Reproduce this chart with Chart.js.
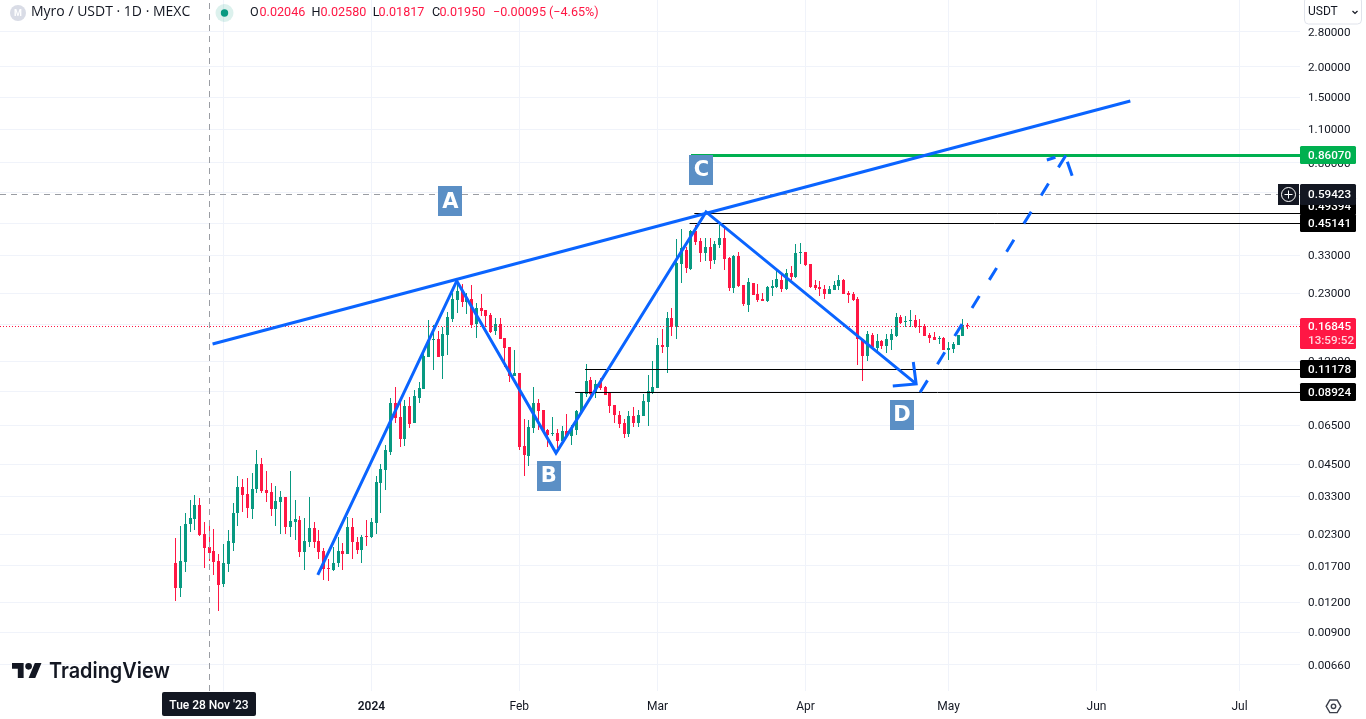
<!DOCTYPE html>
<html>
<head>
<meta charset="utf-8">
<title>Myro / USDT 1D</title>
<script src="https://cdn.jsdelivr.net/npm/chart.js@4/dist/chart.umd.min.js"></script>
<style>
html,body{margin:0;padding:0;background:#fff;overflow:hidden}
canvas{display:block}
</style>
</head>
<body>
<canvas id="c" width="1366" height="719"></canvas>
<script>
// Candles: one per day, first candle 41 days before 1 Jan 2024 (day 0)
const firstCandleDay = -41;
const opens = [.0175,.0138,.0177,.0254,.0267,.0304,.0231,.0204,.0196,.0178,.0143,.0173,.0212,.0282,.0361,.0338,.0293,.0354,.0450,.0351,.0344,.0293,.0313,.0328,.0247,.0259,.0264,.0194,.0214,.0245,.0216,.0196,.0167,.0164,.0175,.0196,.0191,.0247,.0214,.0198,.0227,.0223,.0257,.0376,.0425,.0505,
.0807,.0705,.0572,.0784,.0666,.0846,.0921,.1252,.1472,.1487,.1264,.1545,.1800,.2158,.2352,.2117,.2179,.1716,.1999,.1961,.1870,.1605,.1716,.1501,.1377,.1044,.1074,.0535,.0486,.0635,.0807,.0754,.0623,.0600,.0606,.0561,.0617,.0588,.0623,.0740,.0879,.1004,.0896,.0985,.0939,.0887,
.0791,.0719,.0666,.0600,.0712,.0666,.0712,.0814,.0887,.0930,.1404,.1377,.1817,.1667,.3044,.3481,.2902,.4173,.3794,.3383,.3582,.3163,.3651,.3903,.3225,.2421,.3287,.2491,.2058,.2539,.2286,.2179,.2138,.2421,.2444,.2613,.2398,.2794,.2689,.3383,.3415,.3044,.2491,.2444,.2398,.2286,.2375,.2467,.2613,.2308,.2286,.2179,.1487,.1264,.1545,.1364,.1458,.1390,.1472,.1530,.1834,.1749,.1766,.1783,.1683,.1683,.1545,.1515,.1495,.1501,.1338,.1351,.1404,.1530,.1700];
const highs = [.0221,.0249,.0282,.0319,.0335,.0325,.0259,.0259,.0242,.0191,.0210,.0240,.0310,.0401,.0390,.0394,.0413,.0514,.0477,.0421,.0376,.0365,.0348,.0328,.0421,.0319,.0274,.0269,.0328,.0259,.0240,.0202,.0182,.0204,.0225,.0212,.0272,.0269,.0225,.0229,.0264,.0269,.0401,.0450,.0540,.0846,
.0939,.0814,.0830,.0854,.0913,.0985,.1338,.1783,.1700,.1605,.1667,.1924,.2308,.2539,.2515,.2308,.2491,.2097,.2286,.1961,.1906,.1817,.1817,.1501,.1377,.1338,.1074,.0692,.0685,.0939,.0838,.0754,.0629,.0705,.0629,.0647,.0726,.0654,.0754,.0896,.1171,.1034,.1004,.1024,.0948,.0887,
.0791,.0747,.0692,.0747,.0776,.0754,.0879,.1054,.1205,.1501,.1636,.1924,.1999,.3866,.4255,.3582,.4213,.4420,.3903,.3903,.3903,.3794,.4420,.4295,.3256,.3319,.3415,.2491,.2663,.2539,.2515,.2308,.2467,.2613,.2930,.2741,.2902,.2987,.3686,.3722,.3415,.3044,.2613,.2588,.2491,.2467,.2588,.2741,.2638,.2352,.2330,.2221,.1487,.1605,.1575,.1560,.1472,.1560,.1636,.1906,.1870,.1852,.1961,.1870,.1800,.1716,.1575,.1590,.1530,.1515,.1445,.1445,.1545,.1800,.1732];
const lows = [.0121,.0126,.0160,.0236,.0240,.0227,.0167,.0178,.0156,.0110,.0139,.0160,.0196,.0249,.0285,.0269,.0267,.0341,.0341,.0313,.0274,.0249,.0231,.0231,.0225,.0218,.0185,.0164,.0204,.0202,.0182,.0149,.0147,.0162,.0168,.0164,.0191,.0182,.0191,.0175,.0206,.0221,.0231,.0282,.0351,.0491,
.0666,.0530,.0535,.0635,.0666,.0807,.0921,.1252,.1105,.1252,.1014,.1276,.1749,.1906,.2018,.1888,.1652,.1501,.1852,.1667,.1575,.1545,.1487,.1138,.0985,.1044,.0514,.0401,.0442,.0606,.0623,.0606,.0530,.0588,.0525,.0550,.0583,.0540,.0594,.0733,.0854,.0854,.0846,.0913,.0870,.0733,
.0666,.0635,.0577,.0583,.0641,.0641,.0712,.0647,.0879,.0930,.1300,.1074,.1530,.1487,.2539,.2794,.2875,.3651,.3103,.3133,.2902,.3044,.3548,.2875,.2352,.2308,.2444,.2038,.1924,.2264,.2117,.2138,.2117,.2243,.2421,.2330,.2375,.2613,.2663,.3044,.2987,.2421,.2375,.2243,.2179,.2286,.2375,.2375,.2286,.2097,.2138,.1160,.0995,.1205,.1364,.1313,.1351,.1300,.1338,.1515,.1716,.1667,.1667,.1652,.1575,.1530,.1431,.1472,.1417,.1338,.1216,.1300,.1404,.1530,.1636];
const closes = [.0138,.0178,.0254,.0269,.0304,.0229,.0202,.0192,.0177,.0142,.0175,.0216,.0282,.0361,.0335,.0296,.0354,.0450,.0348,.0341,.0293,.0316,.0328,.0247,.0262,.0267,.0194,.0216,.0245,.0214,.0194,.0165,.0165,.0175,.0196,.0191,.0247,.0214,.0198,.0225,.0225,.0259,.0379,.0429,.0514,.0807,
.0699,.0572,.0784,.0660,.0862,.0930,.1264,.1472,.1487,.1252,.1560,.1834,.2179,.2352,.2117,.2200,.1700,.1999,.1943,.1852,.1590,.1716,.1487,.1364,.1044,.1074,.0530,.0491,.0641,.0807,.0747,.0611,.0594,.0606,.0561,.0617,.0588,.0635,.0747,.0896,.0995,.0879,.0967,.0930,.0870,.0784,
.0719,.0660,.0600,.0712,.0666,.0719,.0822,.0904,.0939,.1404,.1377,.1817,.1667,.3074,.3548,.2930,.4173,.3758,.3383,.3582,.3133,.3686,.3903,.3194,.2421,.3287,.2467,.2077,.2564,.2264,.2158,.2138,.2444,.2467,.2638,.2398,.2794,.2689,.3383,.3415,.3015,.2444,.2421,.2398,.2286,.2398,.2491,.2613,.2286,.2264,.2158,.1487,.1264,.1560,.1377,.1458,.1390,.1487,.1560,.1834,.1732,.1766,.1783,.1667,.1667,.1530,.1501,.1472,.1501,.1338,.1364,.1417,.1545,.1700,.16845];

// Drawing tool paths: day offsets and prices
const zigzagDays = [-11.24, 17.9, 38.7, 70.15, 114.2];
const zigzagPrices = [.0156, .2588, .0500, .5005, .0967];
const arrowDownDays = [109.3, 114.2, 113.6];
const arrowDownPrices = [.0948, .0967, .1193];
const trendDays = [-33.3, 159.1];
const trendPrices = [.1417, 1.445];
const forecastDays = [115.04, 145.6];
const forecastPrices = [.0893, .8607];
const forecastBarbLeftDays = [141.6, 143.4];
const forecastBarbLeftPrices = [.8224, .8439];
const forecastBarbRightDays = [145.9, 146.9];
const forecastBarbRightPrices = [.8092, .7078];

const levelPrices = [.8607, .49394, .45141, .11178, .08924];
const levelStartDays = [67, 67.7, 66.7, 44.8, 42.7];
const lastPrice = .16845;
const crossPrice = .59423;
const crossDay = -34;

// Axis ticks
const priceTicks = [2.8, 2, 1.5, 1.1, .8, .6, .45, .33, .23, .17, .12, .09, .065, .045, .033, .023, .017, .012, .009, .0066];
const monthTickDays = [-31, 0, 31, 60, 91, 121, 152, 182];
const monthTickLabels = ['Dec', '2024', 'Feb', 'Mar', 'Apr', 'May', 'Jun', 'Jul'];

// Wave letters
const waveLetters = ['A', 'B', 'C', 'D'];
const waveLetterDays = [16.55, 37.2, 69.2, 111.25];
const waveLetterPrices = [.5532, .0403, .7475, .0720];

const UP = '#089981', DOWN = '#ff1744', BLUE = '#0a64ff', GREEN = '#00b050', INK = '#131722', GRID = '#f0f3fa', CROSS = '#9a9da3';
const FONT = 'Roboto, "Noto Sans", sans-serif';
const xMin = -77.86, xMax = 194.67, yMin = 0.005142, yMax = 3.793;

const pts = (xs, ys) => xs.map((x, i) => ({x, y: ys[i]}));
const candleDay = i => firstCandleDay + i;
const candleColor = opens.map((o, i) => closes[i] >= o ? UP : DOWN);

const lineDs = (data, color, width, extra) => Object.assign({
  type: 'line', data, borderColor: color, borderWidth: width, pointRadius: 0,
  fill: false, tension: 0, borderJoinStyle: 'miter'
}, extra || {});

const datasets = [
  lineDs(pts(zigzagDays, zigzagPrices), BLUE, 3),
  lineDs(pts(arrowDownDays, arrowDownPrices), BLUE, 3),
  lineDs(pts(trendDays, trendPrices), BLUE, 3),
  lineDs(pts(forecastDays, forecastPrices), BLUE, 3, {borderDash: [14, 19]}),
  lineDs(pts(forecastBarbLeftDays, forecastBarbLeftPrices), BLUE, 3),
  lineDs(pts(forecastBarbRightDays, forecastBarbRightPrices), BLUE, 3),
  lineDs([{x: levelStartDays[0], y: levelPrices[0]}, {x: xMax, y: levelPrices[0]}], GREEN, 3, {crisp: 'y'}),
  ...levelPrices.slice(1).map((p, i) => lineDs([{x: levelStartDays[i + 1], y: p}, {x: xMax, y: p}], '#000000', 1, {crisp: 'y'})),
  lineDs([{x: xMin, y: lastPrice}, {x: xMax, y: lastPrice}], DOWN, 1, {borderDash: [1, 2], crisp: 'y'}),
  lineDs([{x: xMin, y: crossPrice}, {x: xMax, y: crossPrice}], CROSS, 1, {borderDash: [6, 5], crisp: 'y'}),
  lineDs([{x: crossDay, y: yMin}, {x: crossDay, y: yMax}], CROSS, 1, {borderDash: [6, 5], crisp: 'x'}),
  {
    type: 'bar', grouped: false, barThickness: 3, inflateAmount: 0, borderWidth: 0, candle: true,
    data: opens.map((o, i) => ({x: candleDay(i), y: [Math.min(o, closes[i]), Math.max(o, closes[i])]})),
    backgroundColor: candleColor
  },
  {
    type: 'bar', grouped: false, barThickness: 1, inflateAmount: 0, borderWidth: 0, candle: true,
    data: highs.map((h, i) => ({x: candleDay(i), y: [lows[i], h]})),
    backgroundColor: candleColor
  }
];

// Put thin marks on whole pixels so they stay as crisp as the original
const crispPlugin = {
  id: 'crisp',
  afterDatasetsUpdate(chart) {
    chart.data.datasets.forEach((ds, di) => {
      const meta = chart.getDatasetMeta(di);
      if (ds.candle) {
        meta.data.forEach(el => {
          el.x = Math.floor(el.x) + .5;
          const top = Math.round(Math.min(el.y, el.base));
          let bot = Math.round(Math.max(el.y, el.base));
          if (bot - top < 1) bot = top + 1;
          el.y = top; el.base = bot; el.height = bot - top;
        });
      } else if (ds.crisp === 'y') {
        meta.data.forEach(el => { el.y = Math.round(el.y) + .5; });
      } else if (ds.crisp === 'x') {
        meta.data.forEach(el => { el.x = Math.floor(el.x) + .5; });
      }
    });
  }
};

function tag(ctx, x, y, w, h, color, text, textColor) {
  ctx.fillStyle = color;
  ctx.beginPath();
  ctx.roundRect(x, y, w, h, 1.5);
  ctx.fill();
  ctx.fillStyle = textColor || '#fff';
  ctx.font = '500 11.7px ' + FONT;
  ctx.textAlign = 'left';
  ctx.textBaseline = 'middle';
  ctx.fillText(text, x + 8, y + h / 2 + 1);
}

const overlayPlugin = {
  id: 'overlay',
  afterDraw(chart) {
    const ctx = chart.ctx, sx = chart.scales.x, sy = chart.scales.y;
    ctx.save();

    // wave letters
    waveLetters.forEach((t, i) => {
      const cx = sx.getPixelForValue(waveLetterDays[i]), cy = sy.getPixelForValue(waveLetterPrices[i]);
      ctx.fillStyle = '#5b8fc5';
      ctx.fillRect(Math.round(cx - 12), Math.round(cy - 15), 24, 30);
      ctx.fillStyle = '#ffffff';
      ctx.font = 'bold 21px "DejaVu Sans", sans-serif';
      ctx.textAlign = 'center';
      ctx.textBaseline = 'middle';
      ctx.fillText(t, cx, cy + 1);
    });

    // price tags on the axis
    const ax = sx.right;
    const tagAt = (p, color, text, dy) => {
      const cy = Math.round(sy.getPixelForValue(p)) + (dy || 0);
      tag(ctx, ax, cy - 9, 56, 18, color, text);
    };
    tagAt(levelPrices[0], GREEN, levelPrices[0].toFixed(5));
    tagAt(levelPrices[1], '#000000', levelPrices[1].toFixed(5), -7);
    tagAt(levelPrices[2], '#000000', levelPrices[2].toFixed(5));
    tagAt(levelPrices[3], '#000000', levelPrices[3].toFixed(5));
    tagAt(levelPrices[4], '#000000', levelPrices[4].toFixed(5));

    // crosshair price tag and plus button
    const cyCross = Math.round(sy.getPixelForValue(crossPrice));
    ctx.fillStyle = INK;
    ctx.fillRect(1278, cyCross - 10, 21, 21);
    tag(ctx, ax, cyCross - 10, 56, 21, INK, crossPrice.toFixed(5));
    ctx.strokeStyle = '#ffffff'; ctx.lineWidth = 1;
    ctx.beginPath(); ctx.arc(1288.5, cyCross + .5, 7, 0, Math.PI * 2); ctx.stroke();
    ctx.beginPath();
    ctx.moveTo(1284.5, cyCross + .5); ctx.lineTo(1292.5, cyCross + .5);
    ctx.moveTo(1288.5, cyCross - 3.5); ctx.lineTo(1288.5, cyCross + 4.5);
    ctx.stroke();

    // last price tag with countdown
    const cyLast = Math.round(sy.getPixelForValue(lastPrice));
    ctx.fillStyle = DOWN;
    ctx.beginPath(); ctx.roundRect(ax, cyLast - 8, 56, 31, 1.5); ctx.fill();
    ctx.fillStyle = '#fff';
    ctx.font = '500 11.7px ' + FONT; ctx.textAlign = 'left'; ctx.textBaseline = 'middle';
    ctx.fillText(lastPrice.toFixed(5), ax + 8, cyLast + 1.5);
    ctx.fillStyle = '#ffd5dd';
    ctx.fillText('13:59:52', ax + 8, cyLast + 15.5);

    // crosshair date tag
    ctx.fillStyle = INK;
    ctx.beginPath(); ctx.roundRect(162, 692, 94, 24, 2); ctx.fill();
    ctx.fillStyle = '#fff';
    ctx.font = '500 12px ' + FONT; ctx.textAlign = 'center';
    ctx.fillText("Tue 28 Nov '23", 209, 706);

    // header
    ctx.textAlign = 'left'; ctx.textBaseline = 'middle';
    ctx.fillStyle = '#d9dce6';
    ctx.beginPath(); ctx.arc(18, 13, 8, 0, Math.PI * 2); ctx.fill();
    ctx.fillStyle = '#fff'; ctx.font = 'bold 9px ' + FONT; ctx.textAlign = 'center';
    ctx.fillText('M', 18, 13.5);
    ctx.textAlign = 'left';
    ctx.fillStyle = INK; ctx.font = '14px "Open Sans", ' + FONT;
    ctx.fillText('Myro / USDT · 1D · MEXC', 31, 12.5, 169);
    ctx.fillStyle = 'rgba(8,153,129,.14)';
    ctx.beginPath(); ctx.arc(224.5, 13, 9, 0, Math.PI * 2); ctx.fill();
    ctx.fillStyle = UP;
    ctx.beginPath(); ctx.arc(224.5, 13, 3.7, 0, Math.PI * 2); ctx.fill();
    ctx.font = '12.6px ' + FONT;
    [['O', 250, '0.02046', 259.5], ['H', 311.5, '0.02580', 320.5], ['L', 372.7, '0.01817', 378.6], ['C', 432, '0.01950', 439.5]].forEach(r => {
      ctx.fillStyle = INK; ctx.fillText(r[0], r[1], 12.5);
      ctx.fillStyle = DOWN; ctx.fillText(r[2], r[3], 12.5);
    });
    ctx.fillStyle = DOWN;
    ctx.fillText('−0.00095', 493, 12.5);
    ctx.fillText('(−4.65%)', 549, 12.5);

    // currency button
    ctx.fillStyle = '#fff'; ctx.strokeStyle = '#e0e3eb'; ctx.lineWidth = 1;
    ctx.beginPath(); ctx.roundRect(1304.5, -3, 57, 27, 4); ctx.fill(); ctx.stroke();
    ctx.fillStyle = INK; ctx.font = '12px ' + FONT;
    ctx.fillText('USDT', 1308, 12);
    ctx.strokeStyle = INK; ctx.lineWidth = 1.2;
    ctx.beginPath(); ctx.moveTo(1352.5, 11); ctx.lineTo(1355, 13.5); ctx.lineTo(1357.5, 11); ctx.stroke();

    // logo
    ctx.save();
    ctx.translate(12, 659.7); ctx.scale(.83, .83);
    ctx.fillStyle = INK;
    ctx.fill(new Path2D('M14 22H7V11H0V4h14v18zM28 22h-8l7.5-18h8L28 22z'));
    ctx.beginPath(); ctx.arc(20, 8, 4, 0, Math.PI * 2); ctx.fill();
    ctx.restore();
    ctx.fillStyle = INK; ctx.font = '600 21.5px Inter, ' + FONT;
    ctx.fillText('TradingView', 49, 671.5, 121);

    // settings gear
    ctx.strokeStyle = '#3b3f4a'; ctx.lineWidth = 1.4;
    ctx.beginPath();
    for (let k = 0; k < 6; k++) {
      const a = k * Math.PI / 3;
      const px = 1333.5 + 7.3 * Math.cos(a), py = 706.3 + 7.3 * Math.sin(a);
      k ? ctx.lineTo(px, py) : ctx.moveTo(px, py);
    }
    ctx.closePath(); ctx.stroke();
    ctx.beginPath(); ctx.arc(1333.5, 706.3, 2.2, 0, Math.PI * 2); ctx.stroke();

    ctx.restore();
  }
};

const noAxisPadding = s => { s.paddingTop = s.paddingBottom = s.paddingLeft = s.paddingRight = 0; };

new Chart(document.getElementById('c'), {
  type: 'bar',
  data: {datasets},
  plugins: [crispPlugin, overlayPlugin],
  options: {
    responsive: false,
    animation: false,
    events: [],
    layout: {padding: 0},
    plugins: {legend: {display: false}, tooltip: {enabled: false}, title: {display: false}},
    scales: {
      x: {
        type: 'linear', min: xMin, max: xMax, offset: false, bounds: 'data',
        grid: {color: GRID, offset: false, drawTicks: false, lineWidth: 1},
        border: {display: false},
        afterFit: s => { s.height = 28; noAxisPadding(s); },
        afterBuildTicks: s => { s.ticks = monthTickDays.map(value => ({value})); },
        ticks: {
          autoSkip: false, maxRotation: 0, padding: 9, color: INK,
          font: c => ({family: FONT, size: 12, weight: c.index === 1 ? '600' : '400'}),
          callback: (v, i) => monthTickLabels[i]
        }
      },
      y: {
        type: 'logarithmic', position: 'right', min: yMin, max: yMax, bounds: 'data',
        grid: {color: GRID, drawTicks: false, lineWidth: 1},
        border: {display: false},
        afterFit: s => { s.width = 66; noAxisPadding(s); },
        afterBuildTicks: s => { s.ticks = priceTicks.map(value => ({value})); },
        ticks: {
          autoSkip: false, padding: 8, color: INK, crossAlign: 'near', labelOffset: 1,
          font: {family: FONT, size: 11.7},
          callback: v => Number(v).toFixed(5)
        }
      }
    }
  }
});
</script>
</body>
</html>
